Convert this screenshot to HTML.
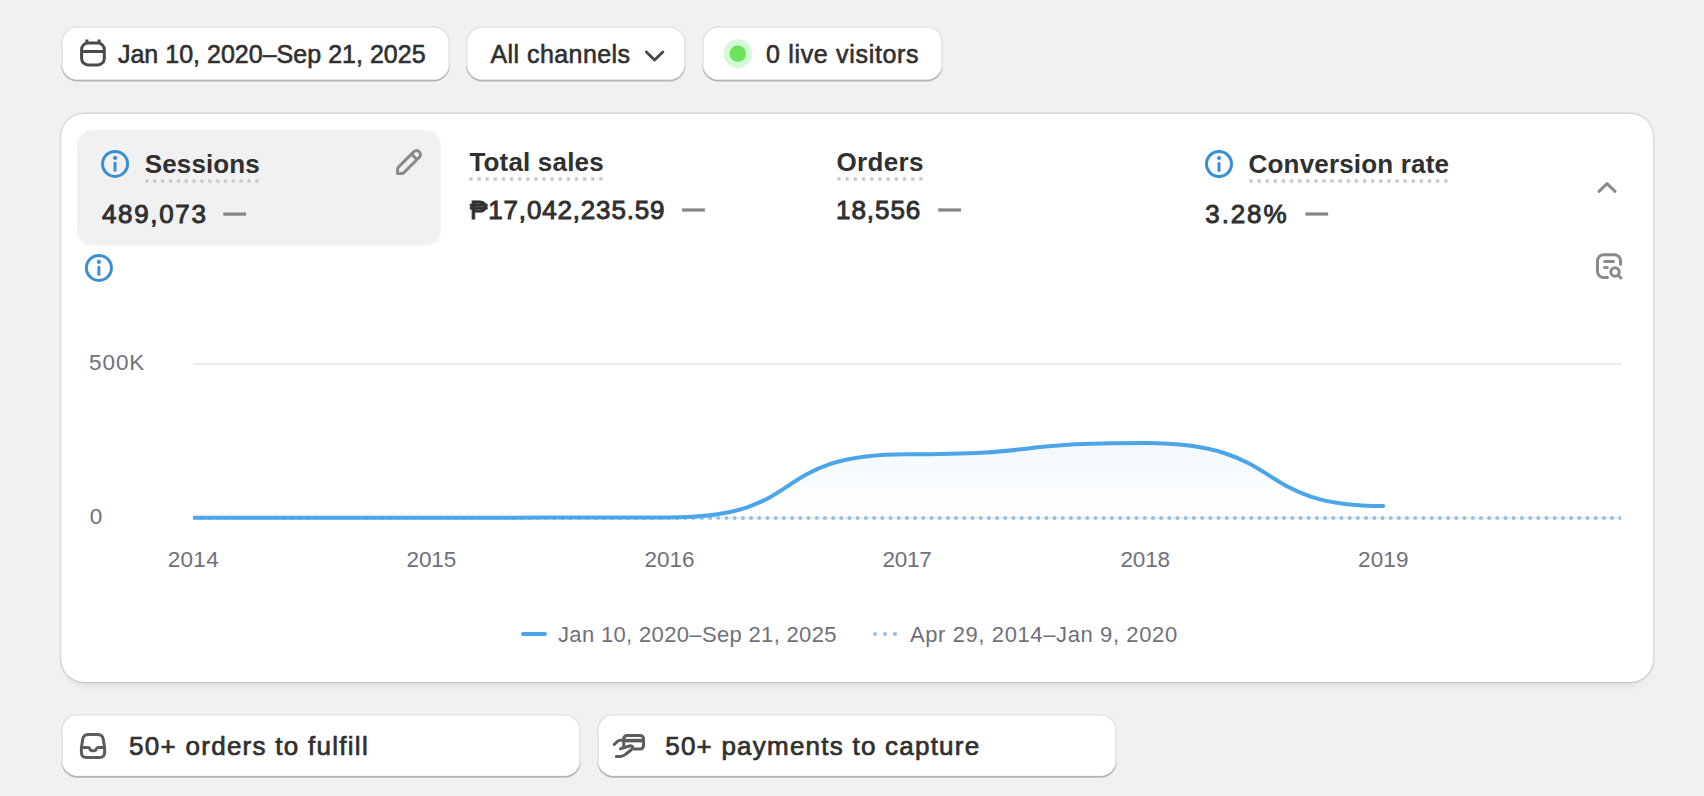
<!DOCTYPE html>
<html lang="en">
<head>
<meta charset="utf-8">
<title>Dashboard</title>
<style>
*{box-sizing:border-box;margin:0;padding:0}
html,body{width:1704px;height:796px;overflow:hidden;background:#f1f1f1}
body{position:relative;font-family:"Liberation Sans",sans-serif;color:#303030}
.abs{position:absolute}
.t{position:absolute;white-space:nowrap;line-height:1}
.top{font-size:25px;color:#303030;-webkit-text-stroke:0.6px #303030}
.h{font-size:26px;font-weight:bold;color:#303030}
.v{font-size:26px;color:#303030;-webkit-text-stroke:0.95px #303030;letter-spacing:1.3px}
.dots{position:absolute;height:0;border-bottom:4px dotted #cccccc}
.ax{font-size:21.5px;color:#70707b}
.lg{font-size:21.5px;color:#70707b}
.bt{font-size:26px;color:#303030;-webkit-text-stroke:0.7px #303030;letter-spacing:1.2px}
</style>
</head>
<body>
<svg class="abs" id="chart" style="left:0;top:0" width="1704" height="796" viewBox="0 0 1704 796">
<defs><linearGradient id="ag" x1="0" y1="443" x2="0" y2="518" gradientUnits="userSpaceOnUse"><stop offset="0" stop-color="#4aa3e6" stop-opacity="0.068"/><stop offset="1" stop-color="#4aa3e6" stop-opacity="0"/></linearGradient><filter id="bl" x="-5%" y="-5%" width="110%" height="115%"><feGaussianBlur stdDeviation="3"/></filter><clipPath id="cc"><rect x="193.3" y="300" width="1427.7" height="260"/></clipPath></defs>
<rect x="61.3" y="26.3" width="388.50" height="54.25" rx="16" fill="#e2e2e2"/><path fill-rule="evenodd" fill="#b5b5b5" d="M61.3 53.9V65.50A16 16 0 0 0 77.3 81.50H433.8A16 16 0 0 0 449.8 65.50V53.9ZM61.3 53.9V63.60A16 16 0 0 0 77.3 79.60H433.8A16 16 0 0 0 449.8 63.60V53.9Z"/><rect x="62.8" y="27.8" width="385.50" height="51.80" rx="14.5" fill="#fff"/><rect x="466.1" y="26.3" width="219.40" height="54.25" rx="16" fill="#e2e2e2"/><path fill-rule="evenodd" fill="#b5b5b5" d="M466.1 53.9V65.50A16 16 0 0 0 482.1 81.50H669.5A16 16 0 0 0 685.5 65.50V53.9ZM466.1 53.9V63.60A16 16 0 0 0 482.1 79.60H669.5A16 16 0 0 0 685.5 63.60V53.9Z"/><rect x="467.6" y="27.8" width="216.40" height="51.80" rx="14.5" fill="#fff"/><rect x="702.3" y="26.3" width="240.60" height="54.25" rx="16" fill="#e2e2e2"/><path fill-rule="evenodd" fill="#b5b5b5" d="M702.3 53.9V65.50A16 16 0 0 0 718.3 81.50H926.9A16 16 0 0 0 942.9 65.50V53.9ZM702.3 53.9V63.60A16 16 0 0 0 718.3 79.60H926.9A16 16 0 0 0 942.9 63.60V53.9Z"/><rect x="703.8" y="27.8" width="237.60" height="51.80" rx="14.5" fill="#fff"/><rect x="61.3" y="714.1" width="519.40" height="62.65" rx="16" fill="#e2e2e2"/><path fill-rule="evenodd" fill="#b5b5b5" d="M61.3 745.9V761.70A16 16 0 0 0 77.3 777.70H564.7A16 16 0 0 0 580.7 761.70V745.9ZM61.3 745.9V759.80A16 16 0 0 0 77.3 775.80H564.7A16 16 0 0 0 580.7 759.80V745.9Z"/><rect x="62.8" y="715.6" width="516.40" height="60.20" rx="14.5" fill="#fff"/><rect x="597.3" y="714.1" width="519.40" height="62.65" rx="16" fill="#e2e2e2"/><path fill-rule="evenodd" fill="#b5b5b5" d="M597.3 745.9V761.70A16 16 0 0 0 613.3 777.70H1100.7A16 16 0 0 0 1116.7 761.70V745.9ZM597.3 745.9V759.80A16 16 0 0 0 613.3 775.80H1100.7A16 16 0 0 0 1116.7 759.80V745.9Z"/><rect x="598.8" y="715.6" width="516.40" height="60.20" rx="14.5" fill="#fff"/><rect x="64" y="600" width="1586" height="86" rx="22" fill="#000" opacity="0.07" filter="url(#bl)"/><rect x="59.8" y="112.3" width="1594.80" height="570.25" rx="24.5" fill="#dbdbdb"/><path fill-rule="evenodd" fill="#c8c8c8" d="M59.8 397.8V658.70A24.5 24.5 0 0 0 84.3 683.20H1630.1A24.5 24.5 0 0 0 1654.6 658.70V397.8ZM59.8 397.8V657.40A24.5 24.5 0 0 0 84.3 681.90H1630.1A24.5 24.5 0 0 0 1654.6 657.40V397.8Z"/><rect x="61.4" y="113.9" width="1591.60" height="568.00" rx="22.9" fill="#fff"/><rect x="77" y="129.9" width="363.8" height="115.9" rx="16" fill="#f1f1f1"/>
<g fill="#858585"><rect x="223.3" y="212.5" width="22.8" height="3.2"/><rect x="682.1" y="208.4" width="22.8" height="3.2"/><rect x="938.2" y="208.4" width="22.8" height="3.2"/><rect x="1305.4" y="212.4" width="22.8" height="3.2"/></g>
<!-- top icons -->
<g fill="none" stroke="#4a4a4a" stroke-width="3">
<rect x="81.6" y="43.1" width="22.7" height="21.8" rx="6.5"/><path d="M81.6 51.4H104.3M86.9 39.6V43M99.1 39.6V43"/>
<path d="M646.4 52L654.6 60L662.8 52" stroke-linecap="round" stroke-linejoin="round"/>
</g>
<circle cx="737.8" cy="53.6" r="14.3" fill="#d4f9d6"/><circle cx="737.8" cy="53.6" r="8.2" fill="#6ce25b"/>
<g fill="none" stroke="#388fd6" stroke-width="3" stroke-linecap="round"><circle cx="115.05" cy="163.9" r="12.5"/><path d="M115.05 163.3V170.3"/></g><circle cx="115.05" cy="157.9" r="2.1" fill="#388fd6"/>
<g fill="none" stroke="#388fd6" stroke-width="3" stroke-linecap="round"><circle cx="1219" cy="164" r="12.5"/><path d="M1219 163.4V170.4"/></g><circle cx="1219" cy="158.0" r="2.1" fill="#388fd6"/>
<g fill="none" stroke="#388fd6" stroke-width="3" stroke-linecap="round"><circle cx="98.9" cy="267.9" r="12.5"/><path d="M98.9 267.3V274.3"/></g><circle cx="98.9" cy="261.9" r="2.1" fill="#388fd6"/>
<!-- pencil -->
<g transform="translate(389,142) scale(2)" fill="#8a8a8a"><path fill-rule="evenodd" d="M15.655 4.344a2.695 2.695 0 0 0-3.81 0l-.599.599-.009-.009-1.06 1.06.008.01-5.88 5.88a2.75 2.75 0 0 0-.805 1.944v1.922a.75.75 0 0 0 .75.75h1.922a2.75 2.75 0 0 0 1.944-.806l7.54-7.539a2.695 2.695 0 0 0 0-3.81Zm-4.409 2.72-5.88 5.88a1.25 1.25 0 0 0-.366.884v1.172h1.172c.331 0 .65-.132.883-.366l5.88-5.88-1.689-1.69Zm2.75.629.599-.599a1.195 1.195 0 1 0-1.69-1.689l-.598.599 1.69 1.689Z"/></g>
<!-- chevron up + report -->
<g fill="none" stroke="#8a8a8a" stroke-width="3" stroke-linecap="round" stroke-linejoin="round">
<path d="M1599 191.3L1607.05 183.6L1615.1 191.3"/>
<path d="M1620.5 264.2V260.7a6 6 0 0 0-6-6H1603.5a6 6 0 0 0-6 6V271.5a6 6 0 0 0 6 6H1607.5"/>
<path d="M1604.6 261.5H1613.5M1604.6 267.5H1607.3"/>
<circle cx="1615" cy="272" r="4.2"/><path d="M1618.2 275.2L1621 278"/>
</g>
<!-- chart -->
<path d="M193.3 364H1621" stroke="#ebebeb" stroke-width="2"/>
<path d="M193.3 518H1621" stroke="#ededed" stroke-width="2"/>
<path d="M193.1 517.8 C312.1 517.8 312.1 517.8 431.1 517.8 C550.1 517.8 550.1 517.4 669.1 517.4 C811.9 517.4 764.3 454.3 907.1 454.3 C1049.9 454.3 1002.3 443.1 1145.1 443.1 C1287.9 443.1 1249.8 506.1 1383.1 506.1 L1383.1 517.8 L193.1 517.8 Z" fill="url(#ag)"/>
<path d="M193.5 517.9H1620.4" stroke="#93c0e4" stroke-width="4" stroke-linecap="round" stroke-dasharray="0 8.2" clip-path="url(#cc)"/>
<path d="M193.1 517.8 C312.1 517.8 312.1 517.8 431.1 517.8 C550.1 517.8 550.1 517.4 669.1 517.4 C811.9 517.4 764.3 454.3 907.1 454.3 C1049.9 454.3 1002.3 443.1 1145.1 443.1 C1287.9 443.1 1249.8 506.1 1383.1 506.1" fill="none" stroke="#4ca5e8" stroke-width="4" stroke-linecap="round" stroke-linejoin="round" clip-path="url(#cc)"/>
<!-- legend -->
<path d="M523 633.9H544.9" stroke="#4ca5e8" stroke-width="4" stroke-linecap="round"/>
<path d="M875 633.9H896" stroke="#93c0e4" stroke-width="4" stroke-linecap="round" stroke-dasharray="0 10"/>
<!-- bottom icons -->
<g fill="none" stroke="#5a5c60" stroke-width="3" stroke-linecap="round" stroke-linejoin="round">
<path d="M88.5 734.5H97.5Q102.5 734.5 103.2 739L104.6 747.5V752.5Q104.6 757.5 99.6 757.5H86.4Q81.4 757.5 81.4 752.5V747.5L82.8 739Q83.5 734.5 88.5 734.5Z"/>
<path d="M81.4 747.4H88Q89.3 747.4 89.8 748.6L90.3 749.8Q90.8 750.8 92 750.8H94.3Q95.5 750.8 96 749.8L96.5 748.6Q97 747.4 98.3 747.4H104.6"/>
<path d="M623.7 746.5V738.9a3.5 3.5 0 0 1 3.5-3.5H640a3.5 3.5 0 0 1 3.5 3.5V745.6a3.5 3.5 0 0 1-3.5 3.5H634.5"/>
<path d="M623.7 740.6H643.5" stroke-width="3.6" stroke-linecap="butt"/>
<path d="M614.3 744.4L617 741.7Q618.5 740.2 620.5 740.2H623"/>
<path d="M620.5 748.7L629.5 746C632.5 745.2 634 747.5 631.5 749.5L626 754C624 755.8 622.5 756.5 620 756.5L616.3 756.5"/>
</g>
</svg>
<span class="t top" id="t1" style="left:117.9px;top:41.7px;letter-spacing:0.02px">Jan 10, 2020–Sep 21, 2025</span>
<span class="t top" id="t2" style="left:490.5px;top:42.0px;letter-spacing:0.43px">All channels</span>
<span class="t top" id="t3" style="left:766.0px;top:42.0px;letter-spacing:0.68px">0 live visitors</span>


<span class="t h" id="h1" style="left:144.8px;top:150.8px;letter-spacing:0.11px">Sessions</span>
<span class="t h" id="h2" style="left:469.4px;top:149.0px;letter-spacing:0.18px">Total sales</span>
<span class="t h" id="h3" style="left:836.5px;top:149.0px;letter-spacing:0.32px">Orders</span>
<span class="t h" id="h4" style="left:1248.6px;top:151.2px;letter-spacing:0.17px">Conversion rate</span>
<div class="dots" style="left:145px;top:179px;width:114px"></div>
<div class="dots" style="left:469px;top:177px;width:134px"></div>
<div class="dots" style="left:837px;top:177px;width:86px"></div>
<div class="dots" style="left:1249px;top:179px;width:199px"></div>

<span class="t v" id="v1" style="left:102.0px;top:201.0px;letter-spacing:1.65px">489,073</span>
<span class="t v" id="v2" style="left:470.1px;top:197.0px;letter-spacing:0.83px">₱17,042,235.59</span>
<span class="t v" id="v3" style="left:836.0px;top:197.0px;letter-spacing:0.95px">18,556</span>
<span class="t v" id="v4" style="left:1205.3px;top:201.0px;letter-spacing:1.88px">3.28%</span>


<span class="t ax" id="y1" style="left:89.0px;top:351.7px;letter-spacing:0.94px;font-size:22.5px">500K</span>
<span class="t ax" id="y0" style="left:89.8px;top:506.3px;font-size:22.5px">0</span>
<span class="t ax" id="x0" style="left:167.8px;top:549.2px;letter-spacing:0.27px;font-size:22.5px">2014</span>
<span class="t ax" id="x1" style="left:406.5px;top:549.2px;letter-spacing:-0.13px;font-size:22.5px">2015</span>
<span class="t ax" id="x2" style="left:644.4px;top:549.2px;letter-spacing:0.02px;font-size:22.5px">2016</span>
<span class="t ax" id="x3" style="left:882.6px;top:549.2px;letter-spacing:-0.26px;font-size:22.5px">2017</span>
<span class="t ax" id="x4" style="left:1120.4px;top:549.2px;letter-spacing:-0.13px;font-size:22.5px">2018</span>
<span class="t ax" id="x5" style="left:1358.0px;top:549.2px;letter-spacing:0.14px;font-size:22.5px">2019</span>
<span class="t lg" id="l1" style="left:558.0px;top:624.4px;letter-spacing:0.34px;font-size:22px">Jan 10, 2020–Sep 21, 2025</span>
<span class="t lg" id="l2" style="left:909.9px;top:624.4px;letter-spacing:0.61px;font-size:22px">Apr 29, 2014–Jan 9, 2020</span>

<span class="t bt" id="bt1" style="left:129.1px;top:733.1px;letter-spacing:1.27px">50+ orders to fulfill</span>
<span class="t bt" id="bt2" style="left:665.2px;top:733.0px;letter-spacing:1.23px">50+ payments to capture</span>
</body>
</html>
